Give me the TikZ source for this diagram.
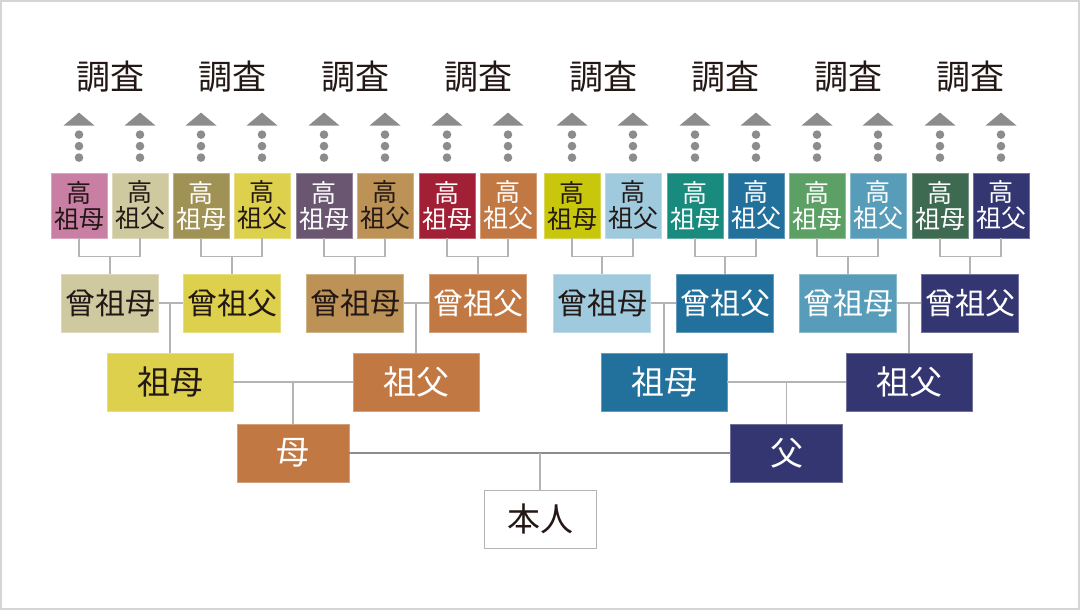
\documentclass[tikz,border=0pt]{standalone}
\usepackage{fontspec}
\setmainfont{Noto Sans CJK JP}
\usepackage{xcolor}
\usepackage{tikz}
\usetikzlibrary{positioning,calc}
\definecolor{kfpink}{HTML}{C87FA3}
\definecolor{kfbeige}{HTML}{CFC9A0}
\definecolor{kfolive}{HTML}{A09254}
\definecolor{kfyellow}{HTML}{DDD04D}
\definecolor{kfplum}{HTML}{6A5670}
\definecolor{kftan}{HTML}{BC9257}
\definecolor{kfcrimson}{HTML}{A22035}
\definecolor{kforange}{HTML}{C17843}
\definecolor{kflime}{HTML}{C9C70C}
\definecolor{kfsky}{HTML}{9FCADE}
\definecolor{kfteal}{HTML}{198A7E}
\definecolor{kfblue}{HTML}{22709C}
\definecolor{kfgreen}{HTML}{5DA065}
\definecolor{kfsteel}{HTML}{579DBA}
\definecolor{kfforest}{HTML}{3D6A50}
\definecolor{kfnavy}{HTML}{333670}
\definecolor{kfgray}{HTML}{8C8C8C}
\definecolor{kfline}{HTML}{B4B4B4}
\definecolor{kfframe}{HTML}{D5D5D5}
\definecolor{kfink}{HTML}{231815}
\tikzset{
  kfbox/.style={draw=#1!70!white,line width=0.8pt,fill=#1,inner sep=0pt,
                align=center,text=kfink},
  ggbox/.style={kfbox=#1,minimum width=56pt,minimum height=65pt,
                font=\fontsize{25}{26}\selectfont},
  gbox/.style={kfbox=#1,minimum width=97pt,minimum height=58pt,
               font=\fontsize{30}{31}\selectfont},
  grandbox/.style={kfbox=#1,minimum width=126pt,minimum height=58pt,
                   font=\fontsize{33}{34}\selectfont},
  parentbox/.style={kfbox=#1,minimum width=112pt,minimum height=58pt,
                    font=\fontsize{33}{34}\selectfont},
  selfbox/.style={draw=kfline,line width=1pt,fill=white,inner sep=0pt,
                  minimum width=112pt,minimum height=58pt,text=kfink,
                  font=\fontsize{33}{34}\selectfont},
  research/.style={font=\fontsize{34}{36}\selectfont,text=kfink,inner sep=0pt},
  link/.style={draw=kfline,line width=1.3pt},
  mainlink/.style={draw=kfgray,line width=1.3pt},
  scanmark/.style={fill=kfgray}
}
\begin{document}
\begin{tikzpicture}[x=1pt,y=-1pt]
    \useasboundingbox (0,0) rectangle (1080,610);
    \draw[draw=kfframe,line width=2pt] (1,1) rectangle (1079,609);

    % 高祖父母
    \foreach \x/\c/\t/\n [count=\i] in {79/kfpink/kfink/母,140/kfbeige/kfink/父,
        201/kfolive/white/母,262/kfyellow/kfink/父,324/kfplum/white/母,385/kftan/kfink/父,
        447/kfcrimson/white/母,508/kforange/white/父,572/kflime/kfink/母,633/kfsky/kfink/父,
        695/kfteal/white/母,756/kfblue/white/父,817/kfgreen/white/母,878/kfsteel/white/父,
        940/kfforest/white/母,1001/kfnavy/white/父}{
      \node[ggbox=\c,text=\t] (gg\i) at (\x,205.5) {高\\祖\n};
    }
    \foreach \i in {1,...,16}{
      \foreach \d in {15,26.5,38}
        \fill[scanmark] ([yshift=\d pt]gg\i.north) circle (4.3pt);
      \fill[scanmark] ([xshift=-15.5pt,yshift=47pt]gg\i.north) --
        ([xshift=15.5pt,yshift=47pt]gg\i.north) -- ([yshift=60pt]gg\i.north) -- cycle;
    }
    \foreach \x [count=\k] in {110,232,355,478,603,725,848,970}
      \node[research] (research\k) at (\x,77) {調査};

    % 曾祖父母
    \foreach \x/\c/\t/\n [count=\k] in {110/kfbeige/kfink/母,232/kfyellow/kfink/父,
        355/kftan/kfink/母,478/kforange/white/父,602/kfsky/kfink/母,725/kfblue/white/父,
        848/kfsteel/white/母,970/kfnavy/white/父}{
      \node[gbox=\c,text=\t] (g\k) at (\x,303) {曾祖\n};
    }
    \foreach \a/\b/\k in {1/2/1,3/4/2,5/6/3,7/8/4,9/10/5,11/12/6,13/14/7,15/16/8}{
      \draw[link] (gg\a.south) -- ++(0,18) -| (gg\b.south);
      \draw[link] (g\k.north) -- ++(0,-18);
    }

    % 祖父母
    \node[grandbox=kfyellow] (mgm) at (170,382) {祖母};
    \node[grandbox=kforange,text=white] (mgf) at (416,382) {祖父};
    \node[grandbox=kfblue,text=white] (pgm) at (664,382) {祖母};
    \node[grandbox=kfnavy,text=white] (pgf) at (909,382) {祖父};
    \foreach \l/\r/\c in {g1/g2/mgm,g3/g4/mgf,g5/g6/pgm,g7/g8/pgf}{
      \draw[link] (\l) -- (\r);
      \draw[link] (\c.north) -- (\c.north |- \l.east);
    }

    % 父母と本人
    \node[parentbox=kforange,text=white] (mother) at (293,453) {母};
    \node[parentbox=kfnavy,text=white] (father) at (786.5,453) {父};
    \node[selfbox] (self) at (540,519) {本人};
    \draw[link] (mgm) -- (mgf);
    \draw[link] (pgm) -- (pgf);
    \draw[link] (mother.north) -- (mother.north |- mgm.east);
    \draw[link] (father.north) -- (father.north |- pgm.east);
    \draw[mainlink] (mother) -- (father);
    \draw[link] (self.north) -- (self.north |- mother.east);
\end{tikzpicture}
\end{document}
